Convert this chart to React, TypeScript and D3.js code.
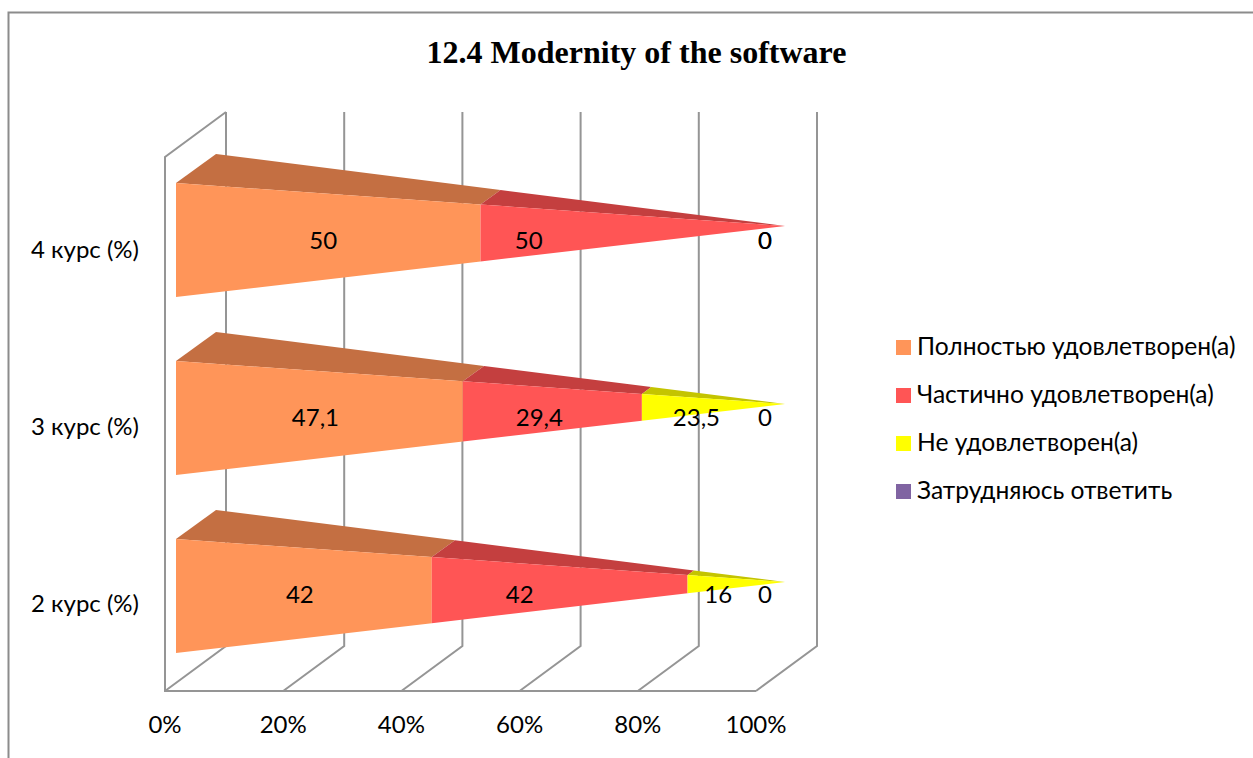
import React from 'react';
import * as d3 from 'd3';

const categories = ['2 курс (%)', '3 курс (%)', '4 курс (%)'];
const seriesNames = ['Полностью удовлетворен(а)', 'Частично удовлетворен(а)', 'Не удовлетворен(а)', 'Затрудняюсь ответить'];
const satisfied = [42, 47.1, 50];
const partly = [42, 29.4, 50];
const notSatisfied = [16, 23.5, 0];
const hardToSay = [0, 0, 0];
const xTicks = [0, 20, 40, 60, 80, 100];

const seriesValues = [satisfied, partly, notSatisfied, hardToSay];
const frontColors = ['#ff9559', '#ff5555', '#ffff00', '#8064a2'];
const topColors = ['#c46f42', '#c43f3f', '#c4c400', '#604a7b'];

// Excel puts 3D labels off the segment centre, so nudge them per row and series
const labelNudge = [
  [-4, -40, -18, 0],
  [-4, -13, -17, 0],
  [-5, -104, 0, 0],
];

const width = 1253;
const height = 758;
const labelFont = 'Lato, Carlito, "Noto Sans", sans-serif';
const gridColor = '#959595';

const depth = { x: 61, y: -45 };
const barDepth = { x: 40, y: -29 };
const barHalf = 57;

const App = () => {
  // the axis runs along the floor, the bars taper along their own front scale
  const xAxis = d3.scaleLinear().domain([0, 100]).range([165, 756]);
  const xFront = d3.scaleLinear().domain([0, 100]).range([176, 785]);
  const xBack = d3.scaleLinear().domain([0, 100]).range([176 + barDepth.x, 785]);
  const yRow = d3.scalePoint<string>().domain(categories).range([582, 226]);
  const yCatLabel = d3.scalePoint<string>().domain(categories).range([612, 258]);
  const yValLabel = d3.scalePoint<string>().domain(categories).range([603, 249]);
  const plotTop = 157;
  const plotBottom = 691;

  const segments = categories.flatMap((cat, r) => {
    const tip = yRow(cat) as number;
    const yTop = d3.scaleLinear().domain([0, 100]).range([tip - barHalf + 14, tip]);
    const yBottom = d3.scaleLinear().domain([0, 100]).range([tip + barHalf + 14, tip]);
    const yBack = d3.scaleLinear().domain([0, 100]).range([tip - barHalf + 14 + barDepth.y, tip]);
    let cum = 0;
    return seriesValues.map((vals, s) => {
      const v0 = cum;
      const v1 = cum + vals[r];
      cum = v1;
      return { cat, r, s, v0, v1, value: vals[r], yTop, yBottom, yBack };
    });
  });

  const line = d3.line();

  return (
    <svg width={width} height={height} style={{ position: 'absolute', left: 0, top: 0, background: '#fff' }}>
      <path d={`M8.5,${height}V12.5H${width}`} fill="none" stroke="#8c8c8c" strokeWidth={2} />
      <text x={636.5} y={63} textAnchor="middle" fontFamily='"Liberation Serif", serif' fontWeight="bold" fontSize={32}>
        12.4 Modernity of the software
      </text>

      <g fill="none" stroke={gridColor} strokeWidth={2}>
        {xTicks.map(t => (
          <path
            key={t}
            d={line([
              [xAxis(t), plotBottom],
              [xAxis(t) + depth.x, plotBottom + depth.y],
              [xAxis(t) + depth.x, plotTop + depth.y],
            ]) as string}
          />
        ))}
        <path d={`M${xAxis(0) + depth.x},${plotTop + depth.y}L${xAxis(0)},${plotTop}V${plotBottom}H${xAxis(100)}`} />
      </g>

      {segments.filter(d => d.value > 0).map(d => (
        <g key={`${d.r}-${d.s}`}>
          <path
            fill={topColors[d.s]}
            d={line([
              [xFront(d.v0), d.yTop(d.v0)],
              [xBack(d.v0), d.yBack(d.v0)],
              [xBack(d.v1), d.yBack(d.v1)],
              [xFront(d.v1), d.yTop(d.v1)],
            ]) + 'Z'}
          />
          <path
            fill={frontColors[d.s]}
            d={line([
              [xFront(d.v0), d.yTop(d.v0)],
              [xFront(d.v1), d.yTop(d.v1)],
              [xFront(d.v1), d.yBottom(d.v1)],
              [xFront(d.v0), d.yBottom(d.v0)],
            ]) + 'Z'}
          />
        </g>
      ))}

      <g fontFamily={labelFont} fontSize={24} fill="#000">
        {segments.map(d => (
          <text
            key={`${d.r}-${d.s}`}
            x={d.value > 0 ? xFront((d.v0 + d.v1) / 2) + labelNudge[d.r][d.s] : 765}
            y={yValLabel(d.cat)}
            textAnchor="middle"
          >
            {String(d.value).replace('.', ',')}
          </text>
        ))}
        {categories.map(c => (
          <text key={c} x={139} y={yCatLabel(c)} textAnchor="end">{c}</text>
        ))}
        {xTicks.map(t => (
          <text key={t} x={xAxis(t)} y={733} textAnchor="middle">{t}%</text>
        ))}
        {seriesNames.map((n, i) => (
          <g key={n}>
            <rect x={896} y={340 + i * 48} width={15} height={15} fill={frontColors[i]} />
            <text x={917} y={355 + i * 48} fontSize={24.6}>{n}</text>
          </g>
        ))}
      </g>
    </svg>
  );
};

export default App;
